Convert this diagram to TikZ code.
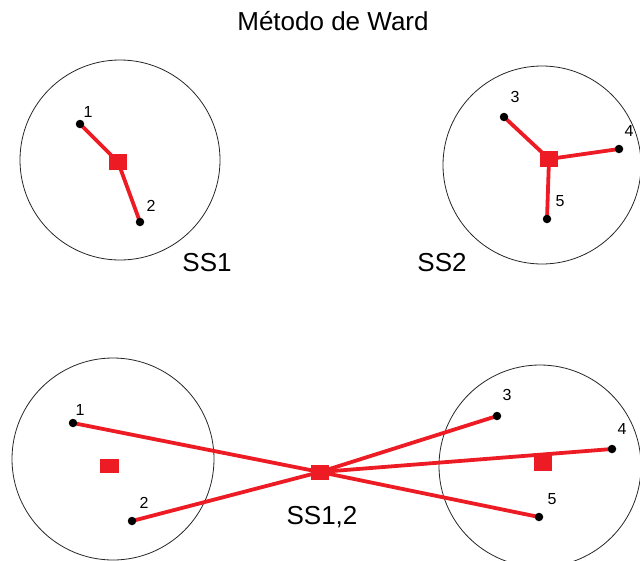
\documentclass[tikz,border=0pt]{standalone}
\usepackage{fontspec}
\setmainfont{Liberation Sans}
\definecolor{wred}{RGB}{237,28,36}
\begin{document}
\begin{tikzpicture}[x=1pt,y=-1pt,
  ring/.style={circle,draw=black!85,line width=0.8pt,minimum size=#1,inner sep=0pt},
  dot/.style={circle,fill=black,inner sep=0pt,minimum size=8.5pt},
  ctr/.style={fill=wred,inner sep=0pt,minimum width=18pt,minimum height=16pt},
  link/.style={draw=wred,line width=3.8pt},
  num/.style={font=\fontsize{16}{16}\selectfont,inner sep=0pt},
  big/.style={font=\fontsize{26}{26}\selectfont,inner sep=0pt}]
\useasboundingbox (0,0) rectangle (640,560);
% title
\node[big] (title) at (333,21) {Método de Ward};
% circles
\node[ring=200pt] (c1) at (120,160) {};
\node[ring=198pt] (c2) at (542,165) {};
\node[ring=202pt] (c3) at (113,459) {};
\node[ring=202pt] (c4) at (540,466) {};
% top points
\coordinate (p1) at (80,124);
\coordinate (p2) at (140,222);
\coordinate (p3) at (504,117);
\coordinate (p4) at (619,149);
\coordinate (p5) at (547,219);
\coordinate (s1) at (118,162);
\coordinate (s2) at (549,159);
% bottom points
\coordinate (q1) at (73,423);
\coordinate (q2) at (132,521);
\coordinate (q3) at (497,416);
\coordinate (q4) at (612,449);
\coordinate (q5) at (539,517);
\coordinate (sc) at (320,472);
% links
\draw[link] (p1) -- (s1);
\draw[link] (p2) -- (s1);
\draw[link] (p3) -- (s2);
\draw[link] (p4) -- (s2);
\draw[link] (p5) -- (s2);
\draw[link] (q1) -- (sc);
\draw[link] (q2) -- (sc);
\draw[link] (q3) -- (sc);
\draw[link] (q4) -- (sc);
\draw[link] (q5) -- (sc);
% dots
\foreach \n in {p1,p2,p3,p4,p5,q1,q2,q3,q4,q5} \node[dot] (d\n) at (\n) {};
% squares
\node[ctr] (m1) at (s1) {};
\node[ctr] (m2) at (s2) {};
\node[ctr,minimum width=19pt,minimum height=14pt] (m3) at (109,466) {};
\node[ctr] (m4) at (543,463) {};
\node[ctr,minimum height=15pt] (m5) at (sc) {};
% number labels
\node[num] (l1) at (88,112) {1};
\node[num] (l2) at (151,206) {2};
\node[num] (l3) at (515,97) {3};
\node[num] (l4) at (629,131) {4};
\node[num] (l5) at (560,201) {5};
\node[num] (k1) at (80,410) {1};
\node[num] (k2) at (144,503) {2};
\node[num] (k3) at (507,395) {3};
\node[num] (k4) at (622,429) {4};
\node[num] (k5) at (552,499) {5};
% group labels
\node[big] (ss1) at (207,263) {SS1};
\node[big] (ss2) at (442,263) {SS2};
\node[big] (ss12) at (322,517) {SS1,2};
\end{tikzpicture}
\end{document}
